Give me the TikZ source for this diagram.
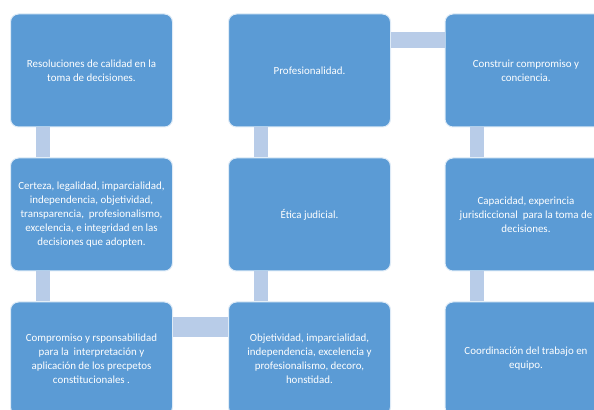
\documentclass[tikz,border=0pt]{standalone}
\usepackage{fontspec}
\setmainfont{Carlito}
\usepackage{tikz}
\usetikzlibrary{calc}
\usetikzlibrary{positioning}

\tikzset{
  caja/.style={draw={rgb, 255:red, 222; green, 235; blue, 247}, line width=0.75pt,
    fill={rgb, 255:red, 91; green, 155; blue, 213}, rounded corners=6pt,
    minimum width=121.5pt, minimum height=84.75pt, inner sep=0pt,
    text=white, align=center, font=\fontsize{8.2}{10.4}\selectfont},
  barra/.style={draw={rgb, 255:red, 184; green, 204; blue, 232}, line cap=butt},
}

\begin{document}
\begin{tikzpicture}[x=0.75pt,y=0.75pt,yscale=-1,xscale=1]
\useasboundingbox (0,0) rectangle (594,410);
\clip (0,0) rectangle (594,410);

%Rounded Rect [col 1]
\node[caja] (resol) at (91.5,70.5) {Resoluciones de calidad en la\\toma de decisiones.};
\node[caja] (certeza) at (91.5,214.5) {Certeza, legalidad, imparcialidad,\\independencia, objetividad,\\transparencia, \ profesionalismo,\\excelencia, e integridad en las\\decisiones que adopten.};
\node[caja] (comprom) at (91.5,358.5) {Compromiso y rsponsabilidad\\para la \ interpretación y\\aplicación de los precpetos\\constitucionales .};

%Rounded Rect [col 2]
\node[caja] (profes) at (309.5,70.5) {Profesionalidad.};
\node[caja] (etica) at (309.5,214.5) {Ética judicial.};
\node[caja] (objet) at (309.5,358.5) {Objetividad, imparcialidad,\\independencia, excelencia y\\profesionalismo, decoro,\\honstidad.};

%Rounded Rect [col 3]
\node[caja] (constr) at (526,70.5) {Construir compromiso y\\conciencia.};
\node[caja] (capac) at (526,214.5) {Capacidad, experincia\\jurisdiccional \ para la toma de\\decisiones.};
\node[caja] (coord) at (526,358.5) {Coordinación del trabajo en\\equipo.};

%Straight Lines [vertical]
\draw[barra, line width=10.5pt] ($(resol.south west)+(33,0)$) -- ($(certeza.north west)+(33,0)$);
\draw[barra, line width=10.5pt] ($(certeza.south west)+(33,0)$) -- ($(comprom.north west)+(33,0)$);
\draw[barra, line width=10.5pt] ($(profes.south west)+(33,0)$) -- ($(etica.north west)+(33,0)$);
\draw[barra, line width=10.5pt] ($(etica.south west)+(33,0)$) -- ($(objet.north west)+(33,0)$);
\draw[barra, line width=10.5pt] ($(constr.south west)+(32.5,0)$) -- ($(capac.north west)+(32.5,0)$);
\draw[barra, line width=10.5pt] ($(capac.south west)+(32.5,0)$) -- ($(coord.north west)+(32.5,0)$);

%Straight Lines [horizontal]
\draw[barra, line width=12pt] ($(profes.north east)+(0,27)$) -- ($(constr.north west)+(0,27)$);
\draw[barra, line width=15pt] ($(comprom.north east)+(0,26)$) -- ($(objet.north west)+(0,26)$);

\end{tikzpicture}
\end{document}
